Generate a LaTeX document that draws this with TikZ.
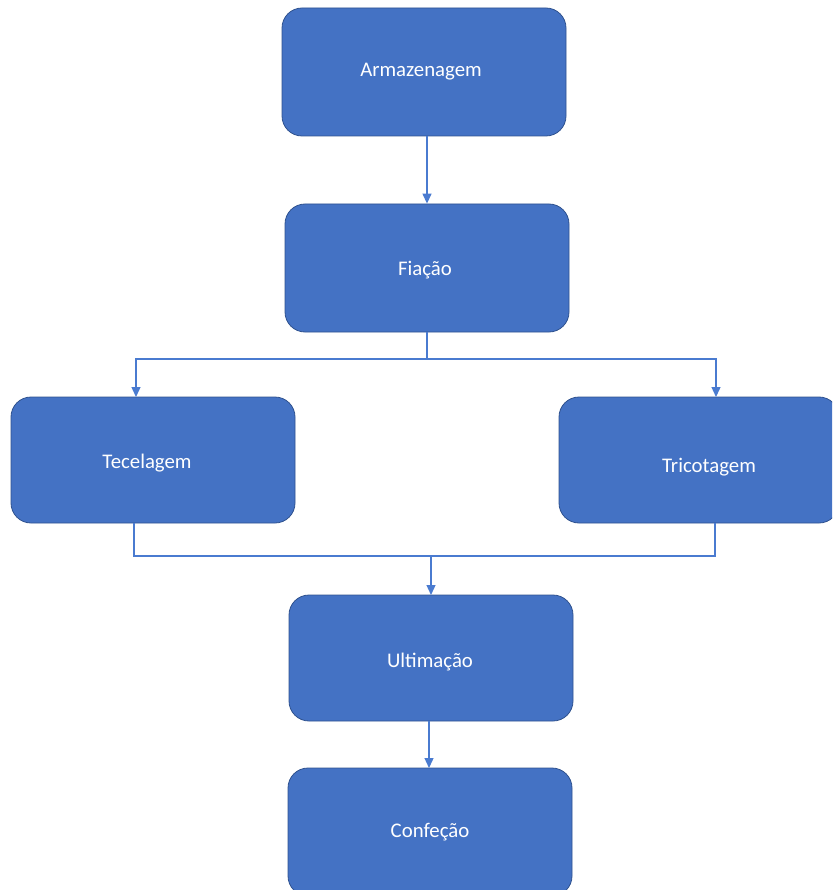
\documentclass[tikz,border=0pt]{standalone}
\usepackage{fontspec}
\setmainfont{Carlito}
\usetikzlibrary{arrows.meta}
\definecolor{boxfill}{HTML}{4472C4}
\definecolor{boxline}{HTML}{2F528F}
\definecolor{conn}{HTML}{4A7BD0}
\begin{document}
\begin{tikzpicture}[x=1pt,y=-1pt,
  stage/.style={rectangle, rounded corners=20pt, fill=boxfill, draw=boxline, line width=0.8pt,
    minimum width=284pt, minimum height=128pt, inner sep=0pt},
  lbl/.style={text=white, font=\fontsize{20.8}{24}\selectfont, inner sep=0pt},
  conn/.style={draw=conn, line width=1.3pt},
  arr/.style={conn, -{Triangle[width=9pt,length=10pt]}}]
\useasboundingbox (0,0) rectangle (832,890);
\begin{scope}
\clip (0,0) rectangle (832,890);
\node[stage] (arm) at (424,72) {};
\node[stage] (fia) at (427,268) {};
\node[stage, minimum height=126pt] (tec) at (153,460) {};
\node[stage, minimum height=126pt, minimum width=280pt] (tri) at (699,460) {};
\node[stage, minimum height=126pt] (ult) at (431,658) {};
\node[stage] (con) at (430,832) {};
\end{scope}
\node[lbl] (tarm) at (421,72) {Armazenagem};
\node[lbl] (tfia) at (425,270) {Fiação};
\node[lbl] (ttec) at (147,463) {Tecelagem};
\node[lbl] (ttri) at (709,467) {Tricotagem};
\node[lbl] (tult) at (430,662) {Ultimação};
\node[lbl] (tcon) at (430,832) {Confeção};
\coordinate (split) at (427,359);
\coordinate (merge) at (431,556);
\draw[arr] (arm.south -| fia.south) -- (fia.north);
\draw[conn] (fia.south) -- (split);
\draw[arr] (split) -| (136,397);
\draw[arr] (split) -| (716,397);
\draw[conn] (134,523) |- (merge);
\draw[conn] (715,523) |- (merge);
\draw[arr] (merge) -- (431,595);
\draw[arr] (429,721) -- (429,768);
\end{tikzpicture}
\end{document}
